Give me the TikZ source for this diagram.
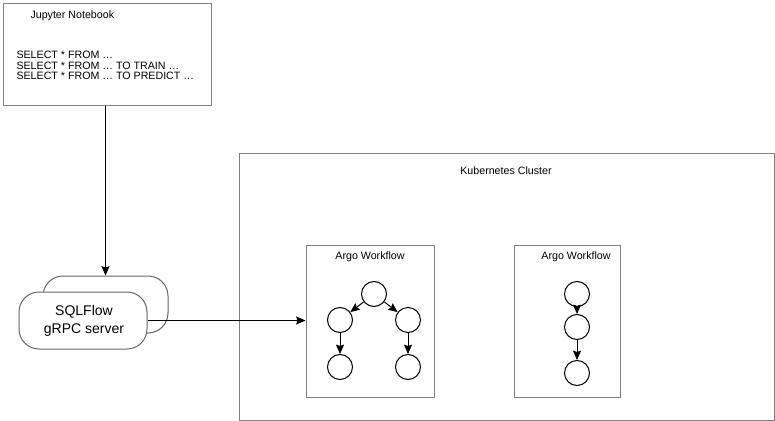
\documentclass[tikz,border=0pt]{standalone}
\usepackage{fontspec}
\setmainfont{Liberation Sans}
\usetikzlibrary{arrows.meta}
\tikzset{every picture/.style={line width=0.75pt}}

\begin{document}
\begin{tikzpicture}[x=0.75pt,y=0.75pt,yscale=-1,xscale=1,
  panel/.style={draw=black!50, rectangle, inner sep=0pt},
  server/.style={draw=black!60, fill=white, rounded corners=15pt, inner sep=0pt, minimum height=42.75pt},
  job/.style={draw, circle, minimum size=18.75pt, inner sep=0pt},
  flow/.style={-{Stealth[length=7pt,width=6pt,inset=1pt]}},
  small/.style={font=\fontsize{8}{8}\selectfont, inner sep=0.75pt}]
\useasboundingbox (0,0) rectangle (775,421);

%Shape: Rectangle
\node[panel, minimum width=156pt, minimum height=76.5pt] (jupyter) at (107,54) {};
%Shape: Rectangle
\node[panel, minimum width=401.25pt, minimum height=200.25pt] (cluster) at (506.5,286.5) {};
%Shape: Rectangle
\node[panel, minimum width=96pt, minimum height=114pt] (argoA) at (370,321) {};
%Shape: Rectangle
\node[panel, minimum width=79.5pt, minimum height=114pt] (argoB) at (567,321) {};

%Shape: Rounded Rect
\node[server, minimum width=93.75pt] (sqlback) at (105.5,304.5) {};
%Shape: Rounded Rect
\node[server, minimum width=96pt] (sqlfront) at (83,320.5) {};

% Text Node
\node[small, anchor=west] (title) at (29,16) {Jupyter Notebook};
% Text Node
\node[small, anchor=west] (q1) at (15,55) {SELECT * FROM …};
% Text Node
\node[small, anchor=west] (q2) at (15,65.5) {SELECT * FROM … TO TRAIN …};
% Text Node
\node[small, anchor=west] (q3) at (15,76) {SELECT * FROM … TO PREDICT …};
% Text Node
\node[small] (k8s) at (506,171) {Kubernetes Cluster};
% Text Node
\node[small] (argoAlabel) at (370,257) {Argo Workflow};
% Text Node
\node[small] (argoBlabel) at (576,257) {Argo Workflow};
% Text Node
\node[font=\fontsize{10.5}{14}\selectfont, align=center, inner sep=0pt] (sqlflow) at (84,321) {SQLFlow\\gRPC server};

%Shape: Circle
\node[job] (a) at (374,294) {};
\node[job] (b) at (340,320) {};
\node[job] (c) at (408,320) {};
\node[job] (d) at (340,367) {};
\node[job] (e) at (408,367) {};
%Shape: Circle
\node[job] (f) at (577,294) {};
\node[job] (g) at (577,327) {};
\node[job] (h) at (577,373) {};

% Arrows
\draw[flow] (jupyter.south -| sqlback.north) -- (sqlback.north);
\draw[flow] (sqlfront.east) -- (sqlfront.east -| argoA.west);
\draw[flow] (a) -- (b);
\draw[flow] (a) -- (c);
\draw[flow] (b) -- (d);
\draw[flow] (c) -- (e);
\draw[flow] (f) -- (g);
\draw[flow] (g) -- (h);

\end{tikzpicture}
\end{document}
